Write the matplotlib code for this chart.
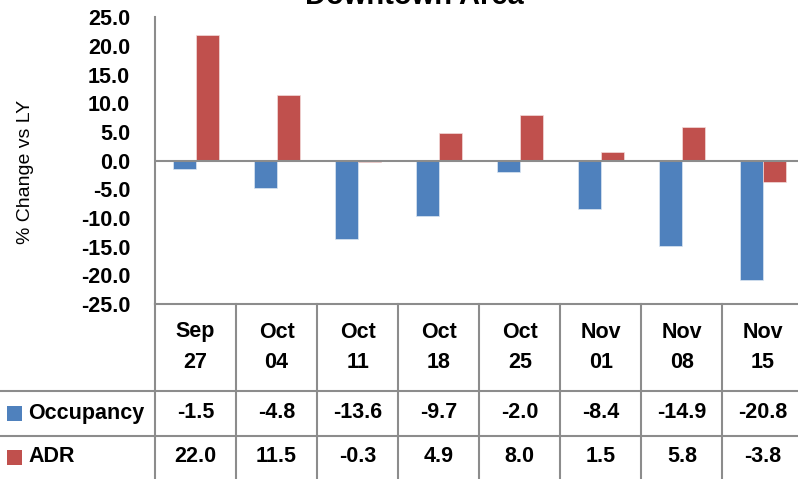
import numpy as np
import matplotlib
matplotlib.use("Agg")
import matplotlib.pyplot as plt
from matplotlib.transforms import blended_transform_factory
from matplotlib.patches import Rectangle
from matplotlib.lines import Line2D

plt.rcParams['font.family'] = ['Liberation Sans', 'DejaVu Sans']

title = "Downtown Area"
weeks_top = ["Sep", "Oct", "Oct", "Oct", "Oct", "Nov", "Nov", "Nov"]
weeks_bot = ["27", "04", "11", "18", "25", "01", "08", "15"]
series_names = ["Occupancy", "ADR"]
occupancy = [-1.5, -4.8, -13.6, -9.7, -2.0, -8.4, -14.9, -20.8]
adr = [22.0, 11.5, -0.3, 4.9, 8.0, 1.5, 5.8, -3.8]
yticks = [25, 20, 15, 10, 5, 0, -5, -10, -15, -20, -25]
ylabel = "% Change vs LY"

W, H = 798, 479
fig = plt.figure(figsize=(W / 100, H / 100), dpi=100)
ax = fig.add_axes([155 / W, 1 - 304 / H, (803.5 - 155) / W, (304 - 17.4) / H])

BLUE = "#4F81BD"
RED = "#C0504D"
GRID = "#8C8C8C"
FS = 15.5

x = np.arange(len(occupancy))
bw = 0.284
ax.bar(x - bw / 2, occupancy, bw, color=BLUE, edgecolor="#DCE6F2", linewidth=0.5, zorder=2)
ax.bar(x + bw / 2, adr, bw, color=RED, edgecolor="#F2DCDB", linewidth=0.5, zorder=2)
ax.axhline(0, color=GRID, lw=1.5, zorder=3)

ax.set_xlim(-0.5, len(occupancy) - 0.5)
ax.set_ylim(-25, 25)
ax.set_yticks(yticks)
ax.set_yticklabels([f"{v:.1f}" for v in yticks], fontsize=FS, fontweight="bold")
ax.tick_params(axis="y", length=0, pad=18)
ax.set_xticks([])
for s in ["top", "right"]:
    ax.spines[s].set_visible(False)
for s in ["left", "bottom"]:
    ax.spines[s].set_color(GRID)
    ax.spines[s].set_linewidth(1.5)

# y label
fig.text(25 / W, 1 - 172 / H, ylabel, rotation=90, ha="center", va="center", fontsize=14)

# title (mostly cut off at top)
fig.text(414 / W, 1 - 3.5 / H, title, ha="center", va="baseline", fontsize=21, fontweight="bold")

# data table
bt = blended_transform_factory(ax.transData, fig.transFigure)
def fy(p):
    return 1 - p / H

for b in np.arange(-0.5, len(occupancy), 1.0):
    fig.add_artist(Line2D([b, b], [fy(304), fy(H + 2)], transform=bt, color=GRID, lw=1.5))
for p in [391, 436]:
    fig.add_artist(Line2D([0, 1], [fy(p), fy(p)], transform=fig.transFigure, color=GRID, lw=1.5))

for i in range(len(occupancy)):
    fig.text(i, fy(332), weeks_top[i], transform=bt, ha="center", va="center", fontsize=FS, fontweight="bold")
    fig.text(i, fy(363), weeks_bot[i], transform=bt, ha="center", va="center", fontsize=FS, fontweight="bold")
    fig.text(i, fy(413), f"{occupancy[i]:.1f}", transform=bt, ha="center", va="center", fontsize=FS, fontweight="bold")
    fig.text(i, fy(457), f"{adr[i]:.1f}", transform=bt, ha="center", va="center", fontsize=FS, fontweight="bold")

for name, col, cy in [(series_names[0], BLUE, 413), (series_names[1], RED, 457)]:
    fig.add_artist(Rectangle((7 / W, fy(cy + 7.5)), 15 / W, 15 / H, transform=fig.transFigure,
                             facecolor=col, edgecolor="none"))
    fig.text(28 / W, fy(cy), name, ha="left", va="center", fontsize=FS, fontweight="bold")

fig.savefig("out.png", dpi=100)
